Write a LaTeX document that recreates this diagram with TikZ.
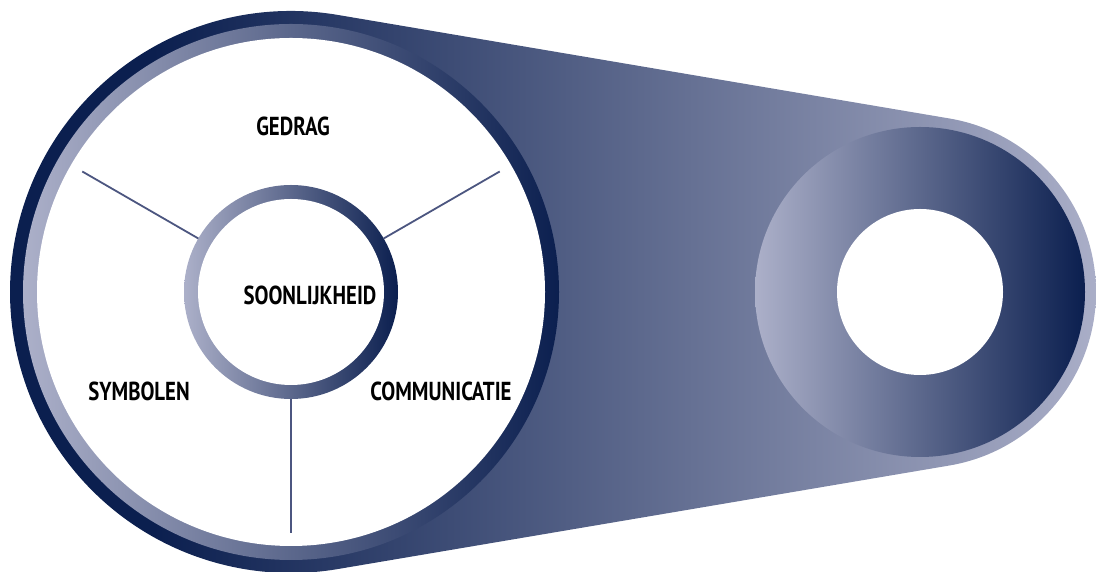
\documentclass[tikz,border=0pt]{standalone}
\usepackage{fontspec}
\usepackage{tikz}
\usetikzlibrary{positioning,calc}
\newfontfamily\wheelfont{PT Sans}[FakeStretch=0.8]
\definecolor{beltNavy}{HTML}{0B1F4F}
\definecolor{beltLight}{HTML}{ACB0C9}
\definecolor{spokeBlue}{HTML}{4C5680}
% belt: navy at the big wheel, light at the far right end
\pgfdeclarehorizontalshading{beltshade}{100bp}{color(0bp)=(beltNavy); color(32bp)=(beltNavy); color(75bp)=(beltLight); color(100bp)=(beltLight)}
\tikzset{
    ringFill/.style={left color=beltLight, right color=beltNavy},
    holeFill/.style={fill=white},
    spoke/.style={draw=spokeBlue, line width=1.8pt},
    wheelLabel/.style={font=\wheelfont\bfseries\fontsize{26}{30}\selectfont, text=black, inner sep=0pt}
}
\begin{document}
\begin{tikzpicture}[x=1pt, y=1pt]
    \useasboundingbox (0,0) rectangle (1096,572);
    \coordinate (bigc) at (291,280);
    \coordinate (smallc) at (920,280);

    % belt around both wheels
    \shade[shading=beltshade]
        ([shift={(80.4:281)}]bigc) arc[start angle=80.4, end angle=279.6, radius=281]
        -- ([shift={(-80.4:176)}]smallc) arc[start angle=-80.4, end angle=80.4, radius=176]
        -- cycle;

    % big wheel
    \shade[ringFill] (bigc) circle[radius=268];
    \fill[holeFill] (bigc) circle[radius=254];

    % small wheel
    \shade[ringFill] (smallc) circle[radius=165];
    \fill[holeFill] (smallc) circle[radius=83];

    % hub
    \shade[ringFill] (bigc) circle[radius=107];
    \fill[holeFill] (bigc) circle[radius=93];

    % spokes
    \foreach \a in {30,150,270}
        \draw[spoke] ([shift={(\a:107)}]bigc) -- ([shift={(\a:241)}]bigc);

    \node[wheelLabel] (gedrag) at (293,446) {GEDRAG};
    \node[wheelLabel] (soon) at (310,277) {SOONLIJKHEID};
    \node[wheelLabel] (symbolen) at (139,181) {SYMBOLEN};
    \node[wheelLabel] (comm) at (441,181) {COMMUNICATIE};
\end{tikzpicture}
\end{document}
